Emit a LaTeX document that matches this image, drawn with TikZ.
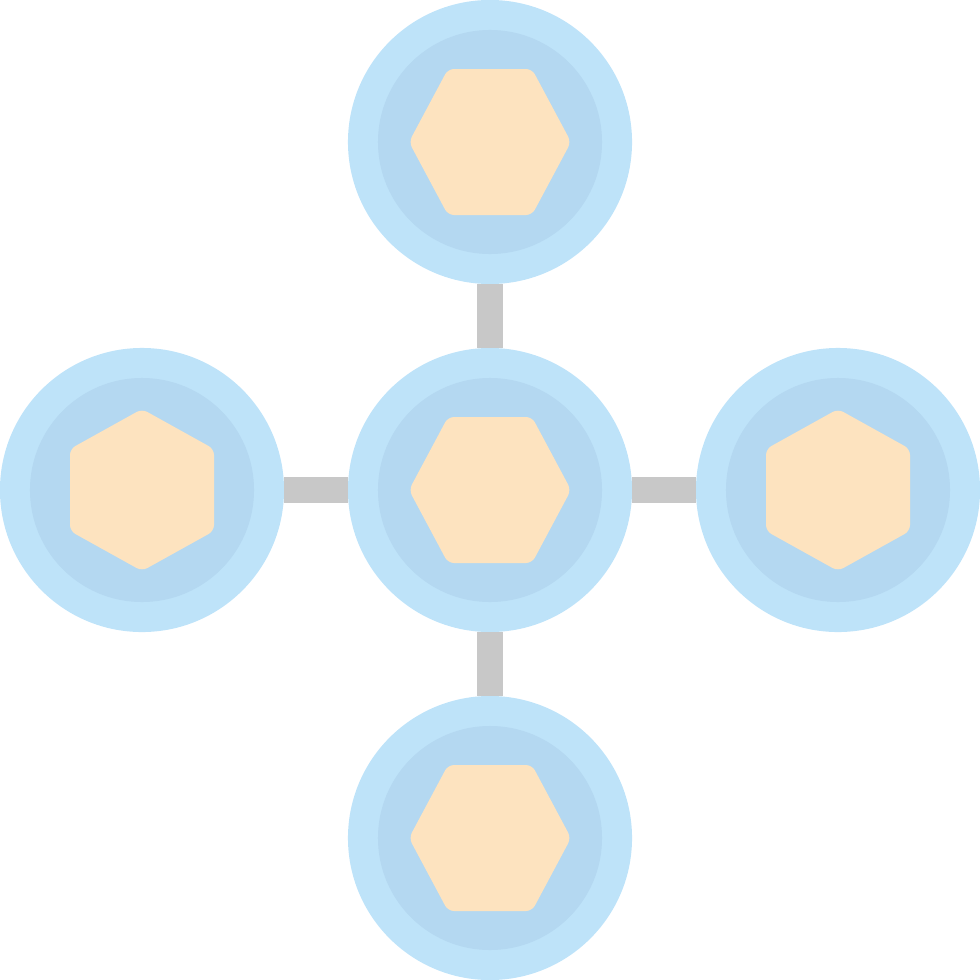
\documentclass[tikz,border=0pt]{standalone}
\definecolor{outerblue}{HTML}{BEE3F9}
\definecolor{innerblue}{HTML}{B4D8F1}
\definecolor{hexfill}{HTML}{FDE3BF}
\definecolor{bargray}{HTML}{C8C8C8}
\tikzset{
  outerc/.style={circle, fill=outerblue, minimum size=7.1cm, inner sep=0pt},
  innerc/.style={circle, fill=innerblue, minimum size=5.6cm, inner sep=0pt},
  bar/.style={draw=bargray, line width=0.65cm},
  hexa/.style={fill=hexfill, rounded corners=0.15cm}
}
\begin{document}
\begin{tikzpicture}[x=0.025cm, y=-0.025cm]
\useasboundingbox (0,0) rectangle (980,980);
\node[outerc] (t) at (490,142) {};
\node[outerc] (l) at (142,490) {};
\node[outerc] (c) at (490,490) {};
\node[outerc] (r) at (838,490) {};
\node[outerc] (b) at (490,838) {};
\draw[bar] (c.north) -- (t.south);
\draw[bar] (c.south) -- (b.north);
\draw[bar] (c.west) -- (l.east);
\draw[bar] (c.east) -- (r.west);
\foreach \n in {t,l,c,r,b}{
  \node[innerc] at (\n) {};
}
% flat-top hexagons (top, centre, bottom)
\foreach \cx/\cy in {490/142, 490/490, 490/838}{
  \fill[hexa] (\cx-81,\cy) -- (\cx-42,\cy-73) -- (\cx+42,\cy-73) -- (\cx+81,\cy) -- (\cx+42,\cy+73) -- (\cx-42,\cy+73) -- cycle;
}
% pointy-top hexagons (left, right)
\foreach \cx/\cy in {142/490, 838/490}{
  \fill[hexa] (\cx,\cy-81) -- (\cx+72,\cy-41) -- (\cx+72,\cy+41) -- (\cx,\cy+81) -- (\cx-72,\cy+41) -- (\cx-72,\cy-41) -- cycle;
}
\end{tikzpicture}
\end{document}
